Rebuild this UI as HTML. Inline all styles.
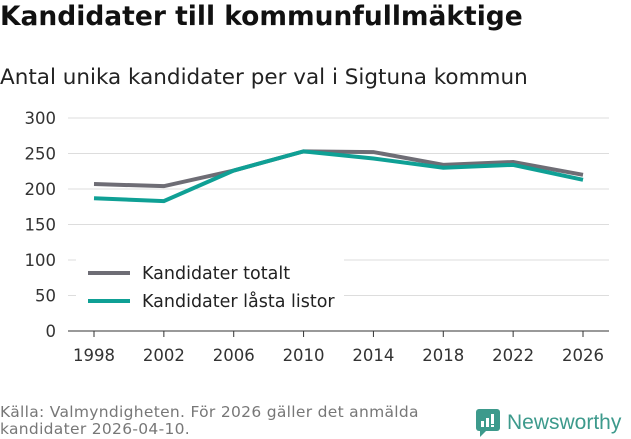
<!DOCTYPE html>
<html><head><meta charset="utf-8"><style>
body{margin:0;width:631px;height:439px;background:#fff;font-family:"DejaVu Sans","Liberation Sans",sans-serif;overflow:hidden;position:relative}
.t{position:absolute;left:0;top:1px;font-size:26.5px;font-weight:bold;color:#111}
.s{position:absolute;left:0;top:65px;font-size:21.5px;color:#222}
.f{position:absolute;left:0;top:404px;font-size:15.5px;color:#777;line-height:17px;letter-spacing:0.3px}
</style></head><body>
<div class="t">Kandidater till kommunfullmäktige</div>
<div class="s">Antal unika kandidater per val i Sigtuna kommun</div>
<svg id="c" width="631" height="439" style="position:absolute;left:0;top:0"></svg>
<div class="f">Källa: Valmyndigheten. För 2026 gäller det anmälda<br>kandidater 2026-04-10.</div>
<div style="position:absolute;left:476px;top:409px;display:flex;align-items:center">
<svg width="24" height="28"><rect x="0" y="0" width="24" height="22" rx="3" fill="#3d9a8c"/><path d="M4 22 L4 28 L10 22Z" fill="#3d9a8c"/><rect x="5" y="12" width="3" height="6" fill="#fff"/><rect x="10" y="9" width="3" height="9" fill="#fff"/><rect x="15" y="5" width="3" height="10" fill="#fff"/><rect x="15" y="16" width="3" height="2" fill="#fff"/></svg>
<span style="font-size:21px;color:#3d9a8c;margin-left:7px;font-family:'Liberation Sans',sans-serif">Newsworthy</span></div>
<script>
const years=[1998,2002,2006,2010,2014,2018,2022,2026];
const totalt=[207,204,226,253,252,234,238,220];
const lasta=[187,183,226,253,243,230,234,213];
const yTicks=[0,50,100,150,200,250,300];
const svg=document.getElementById('c');const NS='http://www.w3.org/2000/svg';
const X=i=>94+i*(583-94)/(years.length-1);
const Y=v=>331-v*(331-118)/300;
function el(t,a){const e=document.createElementNS(NS,t);for(const k in a)e.setAttribute(k,a[k]);svg.appendChild(e);return e;}
yTicks.forEach(v=>{
const g=el('line',{x1:68,x2:609,y1:Y(v),y2:Y(v),stroke:v===0?'#333':'#ddd','stroke-width':1});


const t=el('text',{x:56,y:Y(v)+6,'text-anchor':'end','font-size':16.5,fill:'#333'});t.textContent=v;


});
years.forEach((y,i)=>{
const tk=el('line',{x1:X(i),x2:X(i),y1:331,y2:337,stroke:'#333'});


const t=el('text',{x:X(i),y:361,'text-anchor':'middle','font-size':16.5,fill:'#333'});t.textContent=y;


});
function line(d,c,n){const p=el('polyline',{points:d.map((v,i)=>X(i)+','+Y(v)).join(' '),fill:'none',stroke:c,'stroke-width':4});

}
line(totalt,'#6e6d75','series-kandidater-totalt');
line(lasta,'#0fa095','series-kandidater-lasta-listor');
const bg=el('rect',{x:76,y:258,width:268,height:60,fill:'#fff'});


[['Kandidater totalt','#6e6d75',273],['Kandidater låsta listor','#0fa095',301]].forEach(([l,c,y])=>{
const ln=el('line',{x1:88,x2:130,y1:y,y2:y,stroke:c,'stroke-width':4});


const t=el('text',{x:142,y:y+6,'font-size':17.5,fill:'#222'});t.textContent=l;


});
</script>
</body></html>
